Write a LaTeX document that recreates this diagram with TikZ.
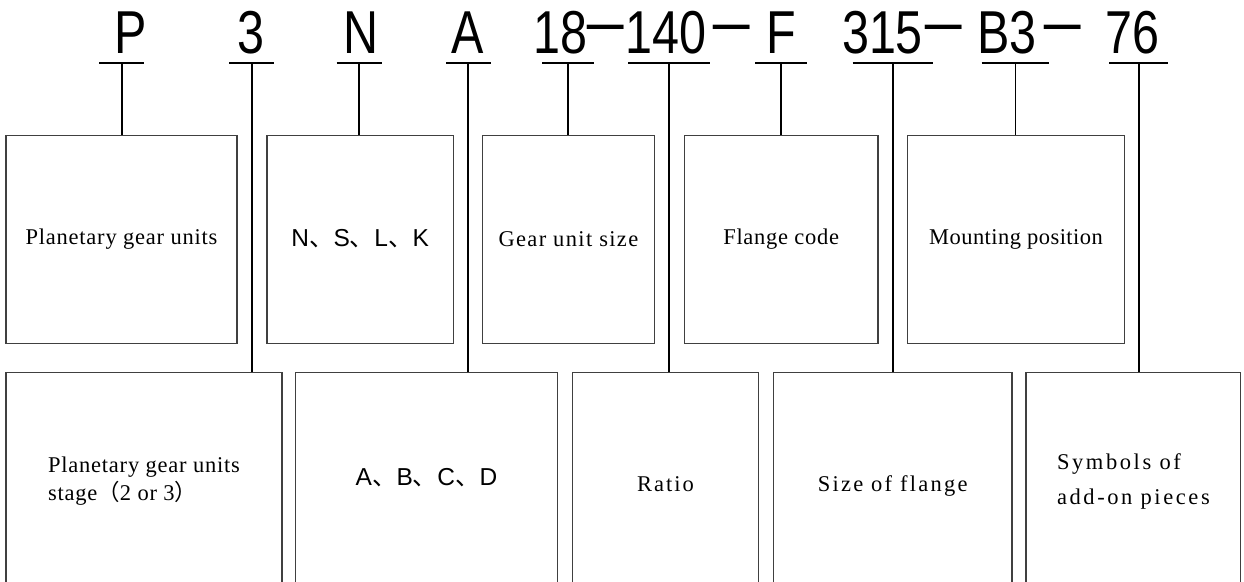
\documentclass[tikz,border=0pt]{standalone}
\usepackage{fontspec}
\setmainfont{Liberation Serif}
\newfontfamily\codefont[FakeStretch=0.8]{Liberation Sans}
\newfontfamily\hyphfont[FakeStretch=1.25]{Liberation Sans}
\newfontfamily\plainsans[LetterSpace=7]{Liberation Sans}
\newfontfamily\cjkfont{Noto Sans CJK SC}
\newcommand{\dun}{{\cjkfont 、}}
\newcommand{\spaced}[1]{\addfontfeatures{LetterSpace=#1}}

\tikzset{
  code/.style={anchor=base,inner sep=0pt,font=\codefont\fontsize{60.6}{60}\selectfont},
  hyph/.style={anchor=base,inner sep=0pt,yshift=5.5pt,font=\hyphfont\fontsize{60.6}{60}\selectfont},
  link/.style={line width=1.8pt},
  infobox/.style={draw=black!75,line width=1.3pt,inner sep=0pt,
    font=\fontsize{22.5}{28}\selectfont},
  letters/.style={font=\plainsans\fontsize{24.5}{28}\selectfont},
  oneline/.style={text height=#1,text depth=0pt},
}

\begin{document}
\begin{tikzpicture}[x=1pt,y=-1pt]
\useasboundingbox (0,0) rectangle (1244,581);
\clip (0,0) rectangle (1244,581);

% type code
\foreach \n/\x/\t in {cP/130.9/P, cStage/250.5/3, cType/361/N, cDesign/467.2/A,
    cSize/560/18, cRatio/665.9/140, cFlange/781.7/F, cFsize/882.5/315,
    cMount/1006.7/B3, cAdd/1132/76}
  \node[code] (\n) at (\x,53.3) {\t};
\foreach \n/\x in {h1/605.3, h2/731.7, h3/943.8, h4/1062.5}
  \node[hyph] (\n) at (\x,53.3) {−};

% underlines
\foreach \n/\x/\w in {uP/121.65/44.7, uStage/251.65/44.7, uType/359.2/45,
    uDesign/468.35/44.7, uSize/568/52, uRatio/669.15/81.7, uFlange/781.15/52.3,
    uFsize/893/80.6, uMount/1015.5/67.6, uAdd/1138.8/59} {
  \coordinate (\n) at (\x,63.3);
  \draw[link] ([xshift=-\w/2]\n) -- ([xshift=\w/2]\n);
}

% upper boxes
\node[infobox,minimum width=231,minimum height=208] (tPlanet) at (121.5,239.3)
  {\spaced{3.4}Planetary gear units};
\node[infobox,minimum width=186.5,minimum height=208,letters,oneline=14.8pt] (tType) at (360.2,239.3)
  {N\dun S\dun L\dun K};
\node[infobox,minimum width=171.8,minimum height=208] (tSize) at (568.4,239.3)
  {\spaced{6}Gear unit size};
\node[infobox,minimum width=193.4,minimum height=208] (tFlange) at (781.2,239.3)
  {\spaced{3.2}Flange code};
\node[infobox,minimum width=217.3,minimum height=208] (tMount) at (1016,239.3)
  {\spaced{2}Mounting position};

% lower boxes
\node[infobox,minimum width=276,minimum height=217.7,align=left] (bStage) at (144,481.2)
  {\spaced{3.4}Planetary gear units\\\spaced{3.4}stage{\cjkfont （}2 or 3{\cjkfont ）}};
\node[infobox,minimum width=261.7,minimum height=217.7,letters,oneline=7.6pt] (bDesign) at (426.5,481.2)
  {A\dun B\dun C\dun D};
\node[infobox,minimum width=186.4,minimum height=217.7,oneline=21pt] (bRatio) at (665.5,481.2)
  {\spaced{9}Ratio};
\node[infobox,minimum width=238.7,minimum height=217.7,oneline=21pt] (bFsize) at (892.7,481.2)
  {\spaced{10}Size of flange};
\node[infobox,minimum width=214.7,minimum height=217.7,align=left] (bAdd) at (1133.4,481.2)
  {\spaced{11.5}Symbols of\\[7pt]\spaced{11.5}add-on pieces};

% connectors
\draw[link] (uP) -- (uP |- tPlanet.north);
\draw[link] (uType) -- (uType |- tType.north);
\draw[link] (uSize) -- (uSize |- tSize.north);
\draw[link] (uFlange) -- (uFlange |- tFlange.north);
\draw[link] (uMount) -- (uMount |- tMount.north);
\draw[link] (uStage) -- (uStage |- bStage.north);
\draw[link] (uDesign) -- (uDesign |- bDesign.north);
\draw[link] (uRatio) -- (uRatio |- bRatio.north);
\draw[link] (uFsize) -- (uFsize |- bFsize.north);
\draw[link] (uAdd) -- (uAdd |- bAdd.north);
\end{tikzpicture}
\end{document}
